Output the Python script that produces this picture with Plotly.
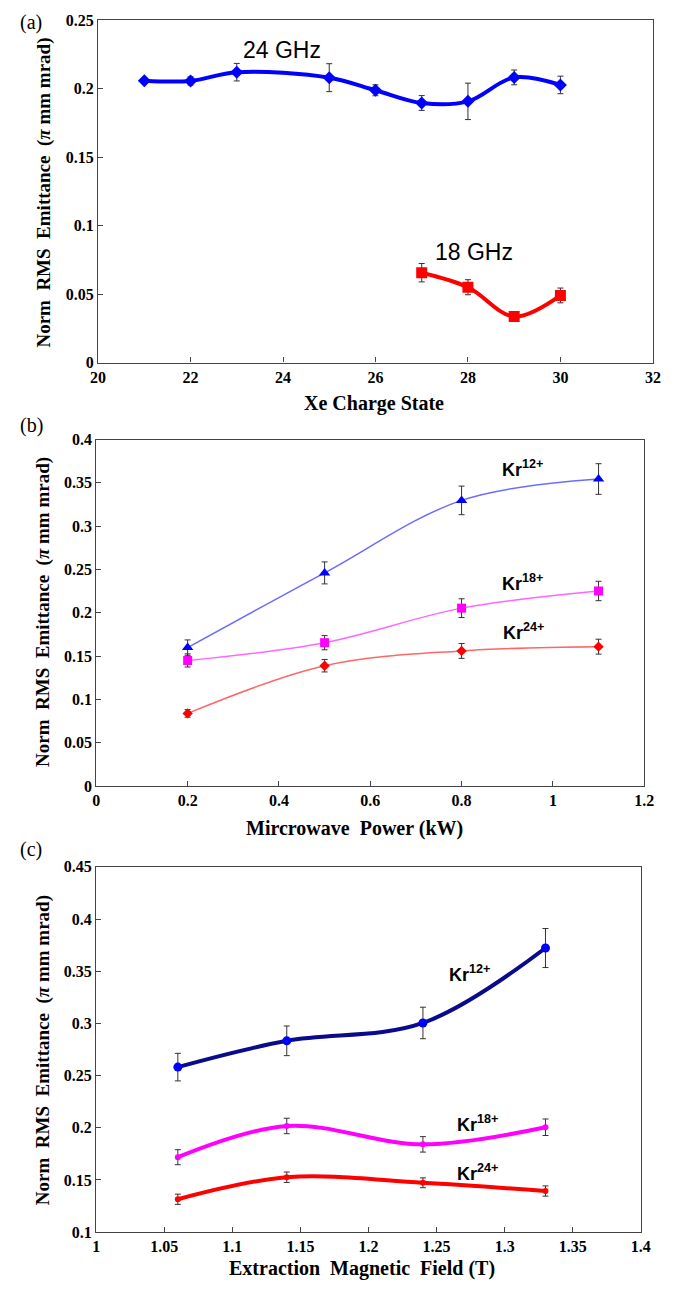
import plotly.graph_objects as go

# Panel (a)
xe_24_x = [21, 22, 23, 25, 26, 27, 28, 29, 30]
xe_24_y = [0.2058, 0.2056, 0.212, 0.208, 0.1988, 0.1895, 0.1907, 0.2082, 0.2027]
xe_24_err = [0.0005, 0.003, 0.0064, 0.0102, 0.004, 0.0054, 0.0133, 0.0054, 0.0064]
xe_18_x = [27, 28, 29, 30]
xe_18_y = [0.0656, 0.055, 0.0336, 0.049]
xe_18_err = [0.0067, 0.0055, 0.001, 0.0054]

# Panel (b)
power_x = [0.2, 0.5, 0.8, 1.1]
pw_kr12_y = [0.1597, 0.246, 0.3297, 0.3544]
pw_kr12_err = [0.0089, 0.0127, 0.0165, 0.0177]
pw_kr18_y = [0.1449, 0.1654, 0.2053, 0.2251]
pw_kr18_err = [0.0076, 0.0082, 0.0108, 0.0112]
pw_kr24_y = [0.0837, 0.1388, 0.1559, 0.1608]
pw_kr24_err = [0.0044, 0.0072, 0.0086, 0.0086]

# Panel (c)
field_x = [1.06, 1.14, 1.24, 1.33]
mf_kr12_y = [0.2581, 0.2833, 0.3004, 0.3722]
mf_kr12_err = [0.0132, 0.0142, 0.0151, 0.0187]
mf_kr18_y = [0.1718, 0.2017, 0.1841, 0.2005]
mf_kr18_err = [0.0072, 0.0074, 0.0074, 0.0079]
mf_kr24_y = [0.1315, 0.1526, 0.1473, 0.1394]
mf_kr24_err = [0.0049, 0.005, 0.0047, 0.0049]

# Tick labels
a_xtick_labels = ["20", "22", "24", "26", "28", "30", "32"]
a_ytick_labels = ["0", "0.05", "0.1", "0.15", "0.2", "0.25"]
b_xtick_labels = ["0", "0.2", "0.4", "0.6", "0.8", "1", "1.2"]
b_ytick_labels = ["0", "0.05", "0.1", "0.15", "0.2", "0.25", "0.3", "0.35", "0.4"]
c_xtick_labels = ["1", "1.05", "1.1", "1.15", "1.2", "1.25", "1.3", "1.35", "1.4"]
c_ytick_labels = ["0.1", "0.15", "0.2", "0.25", "0.3", "0.35", "0.4", "0.45"]

W, H = 688, 1289
SERIF = "Liberation Serif"
SANS = "Liberation Sans"

fig = go.Figure()

def err(vals):
    return dict(type="data", array=vals, visible=True, color="#333333", thickness=1, width=3)

def add(x, y, e, xa, ya, lc, lw, mc, sym, ms):
    fig.add_trace(go.Scatter(
        x=x, y=y, xaxis=xa, yaxis=ya, mode="lines+markers",
        line=dict(color=lc, width=lw, shape="spline", smoothing=1.0),
        marker=dict(color=mc, symbol=sym, size=ms),
        error_y=err(e), showlegend=False))

# (a)
add(xe_24_x, xe_24_y, xe_24_err, "x", "y", "#0000FF", 4, "#0000FF", "diamond", 10)
add(xe_18_x, xe_18_y, xe_18_err, "x", "y", "#FF0000", 4, "#FF0000", "square", 11)
# (b)
add(power_x, pw_kr12_y, pw_kr12_err, "x2", "y2", "#6B6BFF", 1.5, "#0000FF", "triangle-up", 10)
add(power_x, pw_kr18_y, pw_kr18_err, "x2", "y2", "#FF66FF", 1.5, "#FF00FF", "square", 9)
add(power_x, pw_kr24_y, pw_kr24_err, "x2", "y2", "#FF6666", 1.5, "#FF0000", "diamond", 8)
# (c)
add(field_x, mf_kr12_y, mf_kr12_err, "x3", "y3", "#0A0A8C", 4, "#0000FF", "circle", 9)
add(field_x, mf_kr18_y, mf_kr18_err, "x3", "y3", "#FF00FF", 4, "#FF00FF", "circle", 6)
add(field_x, mf_kr24_y, mf_kr24_err, "x3", "y3", "#FF0000", 4, "#FF0000", "circle", 6)

def px(x):
    return x / W

def py(y):
    return 1 - y / H

tickfont = dict(family=SERIF, size=16, color="black")
common = dict(showgrid=False, zeroline=False, showline=True, linecolor="#444444", linewidth=1.3,
              mirror=True, ticks="inside", ticklen=5, tickcolor="#444444", tickfont=tickfont,
              tickmode="array")

def ticks(labels):
    return [float(t) for t in labels], ["<b>%s</b>" % t for t in labels]

panels = [
    dict(xd=(92.5, 662.2), yd=(12.3, 359.3), xr=(20, 32), yr=(0, 0.25),
         xt=a_xtick_labels, yt=a_ytick_labels),
    dict(xd=(90.7, 653.3), yd=(437.3, 788.3), xr=(0, 1.2), yr=(0, 0.4),
         xt=b_xtick_labels, yt=b_ytick_labels),
    dict(xd=(90.5, 649.8), yd=(870.3, 1240.5), xr=(1, 1.4), yr=(0.1, 0.45),
         xt=c_xtick_labels, yt=c_ytick_labels),
]
layout = {}
for i, p in enumerate(panels):
    sx = "" if i == 0 else str(i + 1)
    xv, xtx = ticks(p["xt"])
    yv, ytx = ticks(p["yt"])
    layout["xaxis" + sx] = dict(domain=[px(p["xd"][0]), px(p["xd"][1])], range=list(p["xr"]),
                                tickvals=xv, ticktext=xtx, anchor="y" + sx, **common)
    layout["yaxis" + sx] = dict(domain=[py(p["yd"][1]), py(p["yd"][0])], range=list(p["yr"]),
                                tickvals=yv, ticktext=ytx, anchor="x" + sx, **common)

fig.update_layout(width=W, height=H, margin=dict(l=0, r=0, t=0, b=0),
                  paper_bgcolor="white", plot_bgcolor="white", **layout)

ann = []
def A(text, x, y, size, family, angle=0):
    ann.append(dict(text=text, x=px(x), y=py(y), xref="paper", yref="paper", showarrow=False,
                    textangle=angle, xanchor="center", yanchor="middle",
                    font=dict(family=family, size=size, color="black")))

ytitle = "<b>Norm&nbsp;&nbsp;RMS&nbsp;&nbsp;Emittance&nbsp;&nbsp;(<i>π</i>&nbsp;mm&nbsp;mrad)</b>"
A("(a)", 24, 15, 20, SERIF)
A("(b)", 24, 423, 20, SERIF)
A("(c)", 24, 853, 20, SERIF)
A(ytitle, 36, 187, 19, SERIF, -90)
A(ytitle, 36, 612, 19, SERIF, -90)
A(ytitle, 36, 1056, 19, SERIF, -90)
A("<b>Xe Charge State</b>", 376, 401, 20, SERIF)
A("<b>Mircrowave&nbsp;&nbsp;Power (kW)</b>", 356, 831, 20, SERIF)
A("<b>Extraction&nbsp;&nbsp;Magnetic&nbsp;&nbsp;Field (T)</b>", 364, 1277, 20, SERIF)
A("24 GHz", 281, 43, 23, SANS)
A("18 GHz", 479, 247, 23, SANS)
A("<b>Kr<sup>12+</sup></b>", 528, 467, 18, SANS)
A("<b>Kr<sup>18+</sup></b>", 528, 582, 18, SANS)
A("<b>Kr<sup>24+</sup></b>", 529, 632, 18, SANS)
A("<b>Kr<sup>12+</sup></b>", 474, 978, 18, SANS)
A("<b>Kr<sup>18+</sup></b>", 482, 1130, 18, SANS)
A("<b>Kr<sup>24+</sup></b>", 482, 1180, 18, SANS)
fig.update_layout(annotations=ann)

fig.write_html("out.html")
